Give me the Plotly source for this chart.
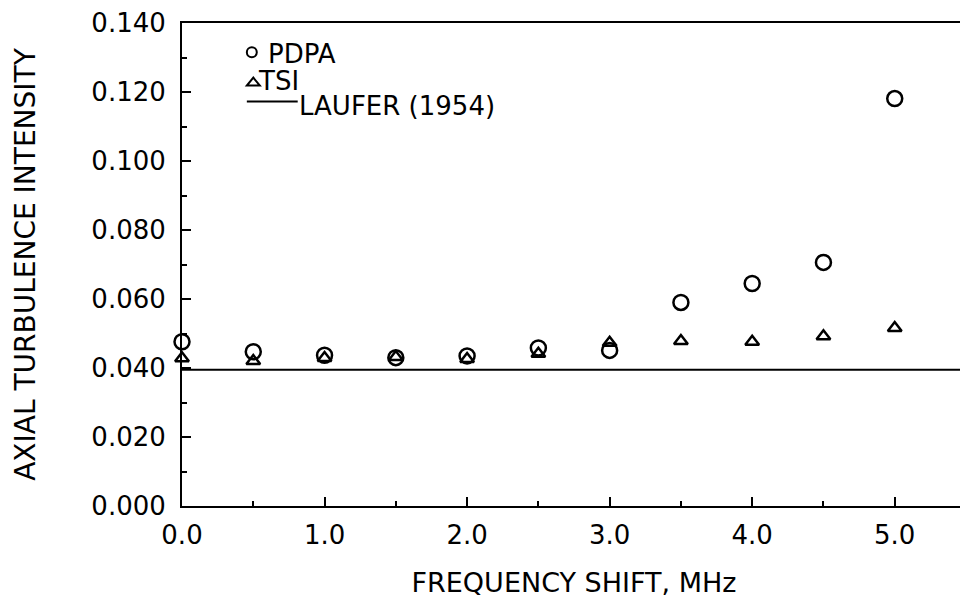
import plotly.graph_objects as go

# Data
freq_shift = [0.0, 0.5, 1.0, 1.5, 2.0, 2.5, 3.0, 3.5, 4.0, 4.5, 5.0]
pdpa = [0.0476, 0.0447, 0.0437, 0.0430, 0.0435, 0.0458, 0.0451, 0.0590, 0.0645, 0.0706, 0.1181]
tsi = [0.0428, 0.0420, 0.0429, 0.0432, 0.0426, 0.0441, 0.0473, 0.0478, 0.0476, 0.0492, 0.0516]
laufer_x = [0.0, 5.5]
laufer_y = [0.0395, 0.0395]

FONT = "DejaVu Sans"
OFF = 8  # default page margin of the html body
W, H = 968 - OFF, 616 - OFF
ML, MR, MT, MB = 182 - OFF, 0, 20 - OFF, 110
PW, PH = W - ML - MR, H - MT - MB
PLOT_LEFT, PLOT_BOTTOM = 182, 506  # page pixel coords of plot area


def px(x):
    return (x - PLOT_LEFT) / PW


def py(y):
    return (PLOT_BOTTOM - y) / PH


fig = go.Figure()
fig.add_trace(go.Scatter(x=laufer_x, y=laufer_y, mode="lines", name="LAUFER (1954)",
                         line=dict(color="black", width=2), cliponaxis=False))
fig.add_trace(go.Scatter(x=freq_shift, y=pdpa, mode="markers", name="PDPA",
                         marker=dict(symbol="circle-open", size=15, color="black",
                                     line=dict(width=2.5, color="black")), cliponaxis=False))
fig.add_trace(go.Scatter(x=freq_shift, y=tsi, mode="markers", name="TSI",
                         marker=dict(symbol="triangle-up-open", size=12, color="black",
                                     line=dict(width=2.5, color="black")), cliponaxis=False))

# Hand-drawn style legend (glyphs + labels)
shapes = [
    dict(type="circle", xref="paper", yref="paper",
         x0=px(247), x1=px(257), y0=py(54.5), y1=py(44.5),
         line=dict(color="black", width=2)),
    dict(type="path", xref="paper", yref="paper",
         path=f"M {px(247)},{py(83)} L {px(260)},{py(83)} L {px(253.5)},{py(75)} Z",
         line=dict(color="black", width=2)),
    dict(type="line", xref="paper", yref="paper",
         x0=px(247), x1=px(298), y0=py(99), y1=py(99),
         line=dict(color="black", width=2)),
]
LEG = dict(family=FONT, size=26, color="black")
annotations = [
    dict(text="PDPA", x=px(267), y=py(51), xref="paper", yref="paper",
         xanchor="left", yanchor="middle", showarrow=False, font=LEG, borderpad=0),
    dict(text="TSI", x=px(257), y=py(78), xref="paper", yref="paper",
         xanchor="left", yanchor="middle", showarrow=False, font=LEG, borderpad=0),
    dict(text="LAUFER (1954)", x=px(298), y=py(104), xref="paper", yref="paper",
         xanchor="left", yanchor="middle", showarrow=False, font=LEG, borderpad=0),
]

fig.update_layout(
    width=W, height=H,
    margin=dict(l=ML, r=MR, t=MT, b=MB, pad=0),
    paper_bgcolor="white", plot_bgcolor="white",
    showlegend=False,
    shapes=shapes, annotations=annotations,
    font=dict(family=FONT, color="black"),
)
fig.update_xaxes(
    range=[0, 5.5], dtick=1, tick0=0, tickformat=".1f",
    ticks="inside", ticklen=9, tickwidth=2, tickcolor="black",
    minor=dict(dtick=0.5, ticks="inside", ticklen=5, tickwidth=2, tickcolor="black"),
    showline=True, linecolor="black", linewidth=2, mirror=True,
    showgrid=False, zeroline=False,
    tickfont=dict(family=FONT, size=26, color="black"),
    ticklabelstandoff=5, ticklabeloverflow="allow",
    title=dict(text="FREQUENCY SHIFT, MHz", font=dict(family=FONT, size=27, color="black"), standoff=24),
)
fig.update_yaxes(
    range=[0, 0.14], dtick=0.02, tick0=0, tickformat=".3f",
    ticks="inside", ticklen=9, tickwidth=2, tickcolor="black",
    minor=dict(dtick=0.01, ticks="inside", ticklen=5, tickwidth=2, tickcolor="black"),
    showline=True, linecolor="black", linewidth=2, mirror=True,
    showgrid=False, zeroline=False,
    tickfont=dict(family=FONT, size=26, color="black"),
    ticklabelstandoff=9, ticklabeloverflow="allow",
    title=dict(text="AXIAL TURBULENCE INTENSITY", font=dict(family=FONT, size=28, color="black"), standoff=48),
)

fig.write_html("out.html")
